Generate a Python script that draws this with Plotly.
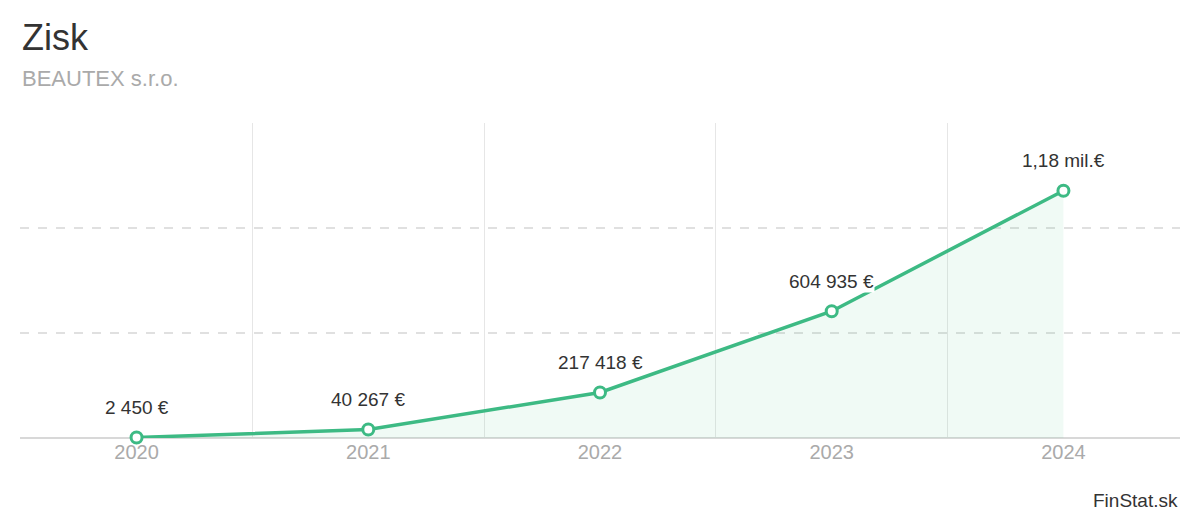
import plotly.graph_objects as go

years = ["2020", "2021", "2022", "2023", "2024"]
values = [2450, 40267, 217418, 604935, 1180000]
labels = ["2 450 €", "40 267 €", "217 418 €", "604 935 €", "1,18 mil.€"]

green = "#3dba84"
xs = list(range(len(years)))

fig = go.Figure()
fig.add_trace(go.Scatter(
    x=xs, y=values, mode="lines+markers",
    line=dict(color=green, width=3.5),
    fill="tozeroy", fillcolor="rgba(61,186,132,0.08)",
    marker=dict(size=11, color="white", line=dict(color=green, width=3)),
    hoverinfo="skip", cliponaxis=False,
))
for x, v, t in zip(xs, values, labels):
    fig.add_annotation(x=x, y=v, text=t, showarrow=False, yshift=30,
                       font=dict(size=19, color="#333"), bgcolor="white",
                       borderpad=0)

fig.add_annotation(xref="paper", yref="paper", x=0, y=1.273, xanchor="left",
                   yanchor="middle", text="Zisk", showarrow=False,
                   font=dict(size=36, color="#333"))
fig.add_annotation(xref="paper", yref="paper", x=0, y=1.14, xanchor="left",
                   yanchor="middle", text="BEAUTEX s.r.o.", showarrow=False,
                   font=dict(size=22, color="#aaa"))
fig.add_annotation(xref="paper", yref="paper", x=1, y=-0.197, xanchor="right",
                   yanchor="middle", text="FinStat.sk", showarrow=False,
                   font=dict(size=19, color="#333"))

fig.update_layout(
    width=1192, height=512,
    margin=dict(l=12, r=20, t=115, b=82),
    paper_bgcolor="white", plot_bgcolor="white",
    font=dict(family="Liberation Sans, Arial, sans-serif"),
    showlegend=False,
    xaxis=dict(
        range=[-0.503, 4.503], tickvals=xs, ticktext=years, showgrid=False,
        tickfont=dict(size=20, color="#aaa"), ticks="", zeroline=False,
        minor=dict(tickvals=[-0.5, 0.5, 1.5, 2.5, 3.5, 4.5], showgrid=True,
                   gridcolor="#e6e6e6", gridwidth=1),
        showline=False,
    ),
    yaxis=dict(
        range=[0, 1503000], dtick=500000, showticklabels=False,
        gridcolor="#e0e0e0", griddash="dash", gridwidth=1.5,
        zeroline=True, zerolinecolor="#d8d8d8", zerolinewidth=2,
    ),
)
fig.write_html("out.html")
